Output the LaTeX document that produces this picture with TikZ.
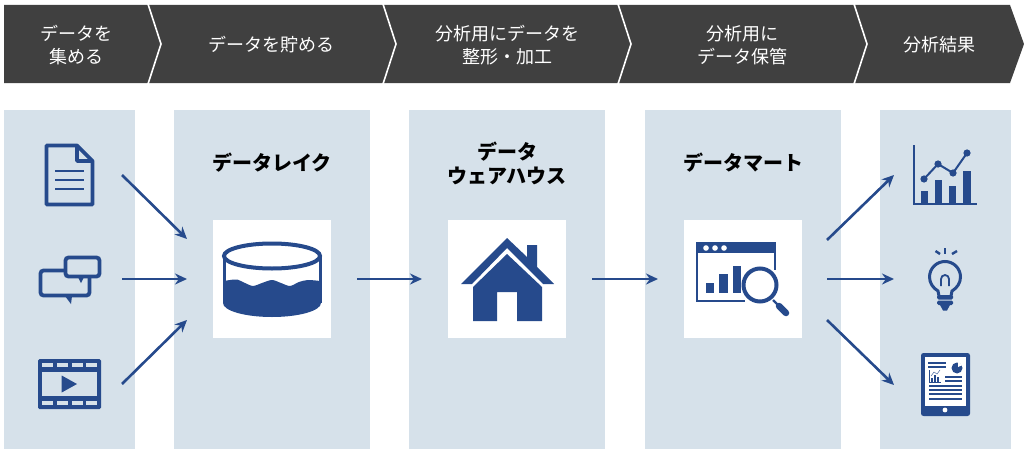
\documentclass[tikz,border=0pt]{standalone}
\usepackage{fontspec}
\newfontfamily\cjk{Noto Sans CJK JP}
\usetikzlibrary{arrows.meta}
\definecolor{navy}{HTML}{264A8C}
\definecolor{panelblue}{HTML}{D6E1EA}
\definecolor{bardark}{HTML}{404040}
\tikzset{
  x=1pt,y=-1pt,
  flowarrow/.style={navy,line width=2.6pt,-{Stealth[length=12pt,width=11pt]}},
  headtext/.style={text=white,align=center,inner sep=0pt,font=\cjk\fontsize{18}{23}\selectfont},
  paneltext/.style={text=black,align=center,inner sep=0pt,font=\cjk\bfseries\fontsize{20}{24}\selectfont},
  panelbox/.style={fill=panelblue,draw=none,inner sep=0pt,anchor=north west,minimum height=339pt},
  iconbox/.style={fill=white,draw=none,inner sep=0pt,anchor=north west,minimum width=118pt,minimum height=118pt},
  iconline/.style={navy,line width=3.8pt},
}
\begin{document}
\begin{tikzpicture}
\useasboundingbox (0,0) rectangle (1024,460);

\fill[bardark] (4,5) -- (1010,5) -- (1024,44) -- (1010,83) -- (4,83) -- cycle;
\foreach \sx in {148,383,618,854}{
  \draw[white,line width=1.6pt] (\sx,4) -- (\sx+13,44) -- (\sx,84);
}
\node[headtext] (heada) at (76,45) {データを\\集める};
\node[headtext] (headb) at (271,45) {データを貯める};
\node[headtext] (headc) at (507,45) {分析用にデータを\\整形・加工};
\node[headtext] (headd) at (742,45) {分析用に\\データ保管};
\node[headtext] (heade) at (939,45) {分析結果};

\node[panelbox,minimum width=131pt] (source) at (4,110) {};
\node[panelbox,minimum width=196pt] (lake) at (174,110) {};
\node[panelbox,minimum width=196pt] (house) at (409,110) {};
\node[panelbox,minimum width=196pt] (mart) at (645,110) {};
\node[panelbox,minimum width=131pt] (result) at (880,110) {};

\node[iconbox] (lakebox) at (213,220) {};
\node[iconbox] (housebox) at (448,220) {};
\node[iconbox] (martbox) at (684,220) {};

\node[paneltext] (laketext) at (272,163) {データレイク};
\node[paneltext] (housetext) at (507,163) {データ\\ウェアハウス};
\node[paneltext] (marttext) at (743,163) {データマート};

\coordinate (doc) at (122,175);
\coordinate (chat) at (122,279);
\coordinate (film) at (122,384);
\coordinate (lakeina) at (187,239);
\coordinate (lakeinb) at (187,279);
\coordinate (lakeinc) at (187,320);
\coordinate (lakeout) at (357,279);
\coordinate (housein) at (422,279);
\coordinate (houseout) at (592,279);
\coordinate (martin) at (658,279);
\coordinate (martouta) at (827,240);
\coordinate (martoutb) at (827,279);
\coordinate (martoutc) at (827,320);
\coordinate (chart) at (894,175);
\coordinate (bulb) at (894,279);
\coordinate (tablet) at (894,385);

\draw[flowarrow] (doc) -- (lakeina);
\draw[flowarrow] (chat) -- (lakeinb);
\draw[flowarrow] (film) -- (lakeinc);
\draw[flowarrow] (lakeout) -- (housein);
\draw[flowarrow] (houseout) -- (martin);
\draw[flowarrow] (martouta) -- (chart);
\draw[flowarrow] (martoutb) -- (bulb);
\draw[flowarrow] (martoutc) -- (tablet);

\draw[iconline,line join=round] (46.5,145.5) -- (77,145.5) -- (92.5,161) -- (92.5,204.5) -- (46.5,204.5) -- cycle;
\draw[iconline,line join=round] (77,145.5) -- (77,161) -- (92.5,161);
\draw[navy,line width=2.8pt] (55,171) -- (84,171);
\draw[navy,line width=2.8pt] (55,180) -- (84,180);
\draw[navy,line width=2.8pt] (55,189) -- (84,189);

\draw[iconline,rounded corners=3pt] (40.5,270.5) rectangle (89.5,295.5);
\fill[navy] (65,296) -- (71,304) -- (72,296) -- cycle;
\draw[iconline,fill=panelblue,rounded corners=3pt] (65.5,257.5) rectangle (99.5,276.5);
\fill[navy] (78,277) -- (81,283) -- (84,277) -- cycle;

\fill[navy,rounded corners=1.5pt] (38,359) rectangle (101,409);
\fill[panelblue] (42,372) rectangle (97,396);
\foreach \hx in {42,57,72,86}{
  \fill[panelblue] (\hx,363) rectangle (\hx+10.5,367);
  \fill[panelblue] (\hx,401) rectangle (\hx+10.5,405);
}
\fill[navy] (61.7,375.5) -- (77,384) -- (61.7,392.5) -- cycle;

\fill[navy] plot[smooth] coordinates {(224,281) (230,280) (237,279.5) (245,283) (253,286) (262,283) (272,280) (281,283) (290,286) (299,282) (308,280) (320,281)}
  -- (321,303) arc[start angle=0,end angle=180,x radius=49,y radius=14] -- cycle;
\draw[navy,line width=3pt] (224,256) -- (224,303);
\draw[navy,line width=3pt] (320,256) -- (320,303);
\draw[navy,line width=4pt,fill=white] (272,256) ellipse[x radius=48,y radius=12.5];

\fill[navy] (507,238) -- (527,257) -- (527,245) -- (537,245) -- (537,267) -- (554,284) -- (543,284) -- (507,248) -- (472,284) -- (461,284) -- cycle;
\fill[navy] (507,254) -- (542,287) -- (542,321) -- (517,321) -- (517,292) -- (497,292) -- (497,321) -- (473,321) -- (473,287) -- cycle;

\fill[navy] (696,242) rectangle (776,253);
\draw[navy,line width=2pt] (697,250) -- (697,300.5) -- (745,300.5);
\draw[navy,line width=2pt] (775,250) -- (775,270);
\foreach \dx in {706,715,724}{
  \fill[white] (\dx,248) circle[radius=2.8];
}
\fill[navy] (706,283) rectangle (714,293);
\fill[navy] (719,274) rectangle (728,293);
\fill[navy] (733,266) rectangle (741,293);
\draw[navy,line width=2.4pt] (773,300) -- (782,309);
\draw[navy,line width=6.5pt,line cap=round] (779,306) -- (786,313);
\draw[navy,line width=4pt,fill=white] (760,285) circle[radius=16.5];

\draw[navy,line width=1.8pt] (914,145) -- (914,204) -- (977,204);
\fill[navy] (921,191) rectangle (928,204);
\fill[navy] (935,180) rectangle (942,204);
\fill[navy] (949,186) rectangle (956,204);
\fill[navy] (963,171) rectangle (971,204);
\draw[navy,line width=2pt] (924,179) -- (938,164) -- (953,173) -- (967,153);
\foreach \px/\py in {924/179,938/164,953/173,967/153}{
  \fill[navy] (\px,\py) circle[radius=3.6];
}

\draw[navy,line width=3pt] (939,296) -- (938,291) .. controls (933,288) and (929.5,283) .. (929.5,277) arc[start angle=180,end angle=360,radius=15.5] .. controls (960.5,283) and (957,288) .. (952,291) -- (951,296);
\draw[navy,line width=1.8pt] (941,286) -- (941,279) arc[start angle=180,end angle=360,radius=4] -- (949,286);
\fill[navy,rounded corners=1.5pt] (937,295) rectangle (953,299.5);
\fill[navy,rounded corners=1.5pt] (937,300.5) rectangle (953,305);
\fill[navy] (940,305) -- (950,305) -- (947,310.5) -- (943,310.5) -- cycle;
\draw[navy,line width=2.4pt] (945,248) -- (945,254);
\draw[navy,line width=2.4pt] (935.5,251) -- (940,254);
\draw[navy,line width=2.4pt] (957,251) -- (952,254);

\fill[navy,rounded corners=2.5pt] (921,353) rectangle (970,416);
\fill[white] (925,357) rectangle (966,406);
\fill[white] (945,410) circle[radius=2.4];
\foreach \ly in {363,367}{
  \draw[navy,line width=1.2pt] (928,\ly) -- (946,\ly);
}
\foreach \ly in {377,381}{
  \draw[navy,line width=1.2pt] (945,\ly) -- (962,\ly);
}
\foreach \ly in {386,390,394,399}{
  \draw[navy,line width=1.2pt] (929,\ly) -- (962,\ly);
}
\fill[navy] (957,368) circle[radius=5.5];
\fill[white] (958,367) -- (958,362) -- (962.5,365) -- cycle;
\draw[navy,line width=0.4pt] (929.5,370) -- (929.5,382) -- (941,382);
\fill[navy] (931,378) rectangle (933,382);
\fill[navy] (934,375) rectangle (936,382);
\fill[navy] (937,377) rectangle (939,382);
\draw[navy,line width=0.4pt] (931,376) -- (934,372) -- (937,374) -- (940,370);
\end{tikzpicture}
\end{document}
